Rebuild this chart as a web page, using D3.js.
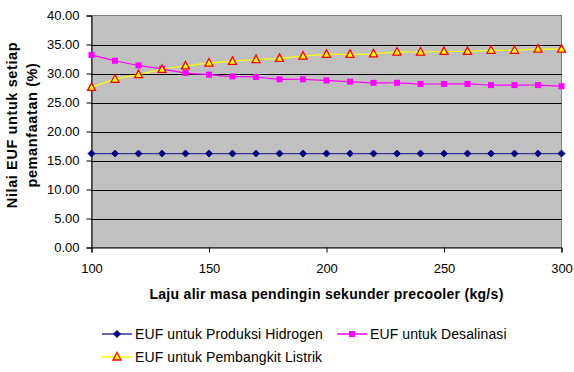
<!DOCTYPE html>
<html><head><meta charset="utf-8">
<script src="https://cdn.jsdelivr.net/npm/d3@7"></script>
<style>body{margin:0;background:#fff;}svg{display:block;font-family:"Liberation Sans",Arial,sans-serif;}</style>
</head><body><svg id="c" width="574" height="372"></svg>
<script>
const xValues = [100,110,120,130,140,150,160,170,180,190,200,210,220,230,240,250,260,270,280,290,300];
const hidrogen = [16.2,16.2,16.2,16.2,16.2,16.2,16.2,16.2,16.2,16.2,16.2,16.2,16.2,16.2,16.2,16.2,16.2,16.2,16.2,16.2,16.2];
const desalinasi = [33.2,32.2,31.4,30.8,30.1,29.8,29.5,29.4,29.0,29.0,28.8,28.6,28.4,28.4,28.2,28.2,28.2,28.0,28.0,28.0,27.8];
const listrik = [27.6,29.0,29.8,30.7,31.3,31.8,32.1,32.4,32.6,33.0,33.3,33.3,33.4,33.7,33.7,33.8,33.8,34.0,34.0,34.2,34.2];
const xTicks = [100,150,200,250,300];
const yTicks = [0,5,10,15,20,25,30,35,40];
const seriesNames = ["EUF untuk Produksi Hidrogen","EUF untuk Desalinasi","EUF untuk Pembangkit Listrik"];
const xTitle = "Laju alir masa pendingin sekunder precooler (kg/s)";
const yTitleLines = ["Nilai EUF untuk setiap","pemanfaatan (%)"];

const svg = d3.select("#c");
const L=91.5, R=561.5, T=15.5, B=247.5;
const x = d3.scaleLinear().domain([100,300]).range([L,R]);
const y = d3.scaleLinear().domain([0,40]).range([B,T]);

svg.append("rect").attr("x",L).attr("y",T).attr("width",R-L).attr("height",B-T)
  .attr("fill","#C0C0C0").attr("stroke","#808080").attr("stroke-width",1);

// gridlines
svg.append("g").selectAll("line").data(yTicks.filter(d=>d>0&&d<40)).join("line")
  .attr("x1",L).attr("x2",R).attr("y1",d=>Math.round(y(d))+0.5).attr("y2",d=>Math.round(y(d))+0.5)
  .attr("stroke","#000").attr("stroke-width",1);

// axes
const yAxis = d3.axisLeft(y).tickValues(yTicks).tickFormat(d3.format(".2f")).tickSize(5).tickPadding(7);
const gy = svg.append("g").attr("transform",`translate(${L},0)`).call(yAxis);
const xAxis = d3.axisBottom(x).tickValues(xTicks).tickFormat(d3.format("d")).tickSize(5).tickPadding(11);
const gx = svg.append("g").attr("transform",`translate(0,${B})`).call(xAxis);
[gx,gy].forEach(g=>{
  g.selectAll("path.domain").attr("stroke","#000");
  g.selectAll("line").attr("stroke","#000");
  g.selectAll("text").attr("font-size","13px").attr("fill","#000").attr("font-family","Liberation Sans, Arial, sans-serif");
});

// axis titles
svg.append("text").attr("x",326.5).attr("y",299).attr("text-anchor","middle")
  .attr("font-size","14px").attr("letter-spacing","0.3px").attr("font-weight","bold").text(xTitle);
const yt = svg.append("text").attr("transform","translate(17,125) rotate(-90)").attr("text-anchor","middle")
  .attr("font-size","14.5px").attr("letter-spacing","0.6px").attr("font-weight","bold");
yTitleLines.forEach((t,i)=>yt.append("tspan").attr("x",0).attr("dy",i===0?0:20).text(t));

const line = d3.line().x((d,i)=>x(xValues[i])).y(d=>y(d)).curve(d3.curveCatmullRom.alpha(0));

const series = [
  {name:seriesNames[0], values:hidrogen, line:"#333399", marker:"diamond"},
  {name:seriesNames[1], values:desalinasi, line:"#FF00FF", marker:"square"},
  {name:seriesNames[2], values:listrik, line:"#FFFF00", marker:"triangle"}
];

function drawMarker(g, type, cx, cy){
  if(type==="diamond"){
    g.append("path").attr("d",d3.symbol(d3.symbolDiamond2,32)()).attr("transform",`translate(${cx},${cy})`)
      .attr("fill","#000080").attr("stroke","#000080").attr("stroke-width",0.8);
  } else if(type==="square"){
    g.append("rect").attr("x",cx-3).attr("y",cy-3).attr("width",6).attr("height",6).attr("fill","#FF00FF");
  } else {
    g.append("path").attr("d",`M${cx},${cy-4.5}L${cx+4},${cy+3}L${cx-4},${cy+3}Z`)
      .attr("fill","#FFFF00").attr("stroke","#FF0000").attr("stroke-width",1.3);
  }
}

series.forEach(s=>{
  svg.append("path").attr("d",line(s.values)).attr("fill","none").attr("stroke",s.line).attr("stroke-width",1.2);
  const g = svg.append("g");
  s.values.forEach((v,i)=>drawMarker(g,s.marker,x(xValues[i]),y(v)));
});

// legend
const legend = [
  {s:series[0], lx:102, ly:334},
  {s:series[1], lx:337, ly:334},
  {s:series[2], lx:102, ly:357}
];
legend.forEach(d=>{
  const g = svg.append("g");
  g.append("line").attr("x1",d.lx).attr("x2",d.lx+30).attr("y1",d.ly).attr("y2",d.ly).attr("stroke",d.s.line).attr("stroke-width",1.5);
  drawMarker(g,d.s.marker,d.lx+15,d.ly);
  g.append("text").attr("x",d.lx+33).attr("y",d.ly+5).attr("font-size","14px").attr("letter-spacing","0.1px").text(d.s.name);
});
</script></body></html>
